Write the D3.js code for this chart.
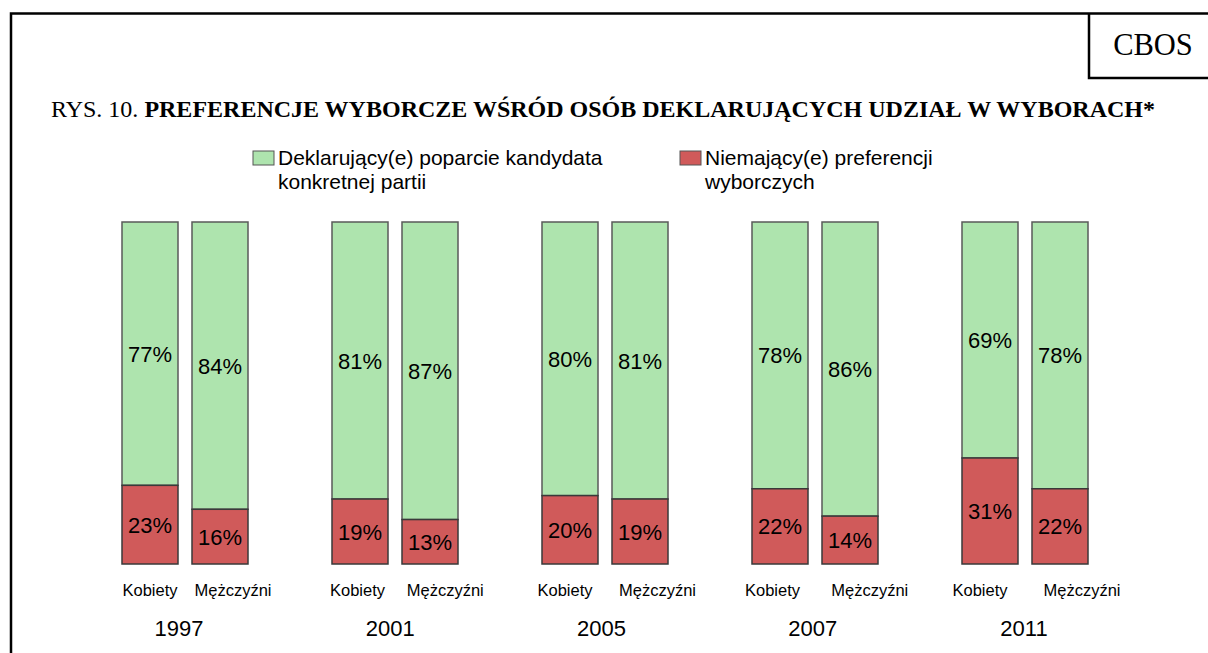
<!DOCTYPE html>
<html>
<head>
<meta charset="utf-8">
<script src="https://cdn.jsdelivr.net/npm/d3@7"></script>
<style>
  body { margin: 0; background: #ffffff; }
  svg text { font-family: "Liberation Sans", Arial, sans-serif; fill: #000; }
</style>
</head>
<body>
<div id="chart"></div>
<script>
const years = ["1997", "2001", "2005", "2007", "2011"];
const sexes = ["Kobiety", "Mężczyźni"];
// share declaring support for a party's candidate
const supportK = [77, 81, 80, 78, 69];
const supportM = [84, 87, 81, 86, 78];
// share without electoral preference
const noPrefK = [23, 19, 20, 22, 31];
const noPrefM = [16, 13, 19, 14, 22];
const legendLabels = [
    ["Deklarujący(e) poparcie kandydata", "konkretnej partii"],
    ["Niemający(e) preferencji", "wyborczych"]
];

const width = 1208;
const height = 653;
const green = "#aee4ae";
const red = "#d05a5a";

const rows = [];
years.forEach((yr, i) => {
    rows.push({ year: yr, sex: sexes[0], support: supportK[i], noPref: noPrefK[i] });
    rows.push({ year: yr, sex: sexes[1], support: supportM[i], noPref: noPrefM[i] });
});

const svg = d3.select("#chart")
    .append("svg")
    .attr("width", width)
    .attr("height", height);

// frame
svg.append("path")
    .attr("d", `M11,${height} V13.5 H${width}`)
    .attr("fill", "none")
    .attr("stroke", "#000")
    .attr("stroke-width", 2.5);
svg.append("path")
    .attr("d", `M1089,13.5 V78 H${width}`)
    .attr("fill", "none")
    .attr("stroke", "#000")
    .attr("stroke-width", 2.5);
svg.append("text")
    .attr("x", 1153)
    .attr("y", 55)
    .attr("text-anchor", "middle")
    .style("font-family", "'Liberation Serif', 'Times New Roman', serif")
    .style("font-size", "30.5px")
    .text("CBOS");

// title
const title = svg.append("text")
    .attr("x", 51)
    .attr("y", 117)
    .style("font-family", "'Liberation Serif', 'Times New Roman', serif")
    .style("font-size", "24px");
title.append("tspan").text("RYS. 10. ");
title.append("tspan")
    .style("font-weight", "bold")
    .text("PREFERENCJE WYBORCZE WŚRÓD OSÓB DEKLARUJĄCYCH UDZIAŁ W WYBORACH*");

// legend
const legend = svg.append("g");
const legX = [253, 680];
const legColors = [green, red];
legendLabels.forEach((lines, i) => {
    legend.append("rect")
        .attr("x", legX[i])
        .attr("y", 151)
        .attr("width", 21)
        .attr("height", 14)
        .attr("fill", legColors[i])
        .attr("stroke", "#555")
        .attr("stroke-width", 1);
    const t = legend.append("text")
        .attr("x", legX[i] + 25)
        .attr("y", 165)
        .style("font-size", "21px");
    lines.forEach((l, j) => {
        t.append("tspan")
            .attr("x", legX[i] + 25)
            .attr("dy", j === 0 ? 0 : 24)
            .text(l);
    });
});

// scales
const xGroup = d3.scalePoint()
    .domain(years)
    .range([185, 1025]);

const xSex = d3.scaleBand()
    .domain(sexes)
    .range([-63, 63])
    .paddingInner(0.2);

const y = d3.scaleLinear()
    .domain([0, 100])
    .range([564, 222]);

const barX = d => xGroup(d.year) + xSex(d.sex);

const bars = svg.append("g")
    .selectAll("g")
    .data(rows)
    .join("g");

bars.append("rect")
    .attr("x", barX)
    .attr("y", d => y(100))
    .attr("width", xSex.bandwidth())
    .attr("height", d => y(d.noPref) - y(100))
    .attr("fill", green)
    .attr("stroke", "#5a5a5a")
    .attr("stroke-width", 1.5);

bars.append("rect")
    .attr("x", barX)
    .attr("y", d => y(d.noPref))
    .attr("width", xSex.bandwidth())
    .attr("height", d => y(0) - y(d.noPref))
    .attr("fill", red)
    .attr("stroke", "#3a3a3a")
    .attr("stroke-width", 1.5);

bars.append("text")
    .attr("x", d => barX(d) + xSex.bandwidth() / 2)
    .attr("y", d => (y(100) + y(d.noPref)) / 2 + 8)
    .attr("text-anchor", "middle")
    .style("font-size", "22px")
    .text(d => d.support + "%");

bars.append("text")
    .attr("x", d => barX(d) + xSex.bandwidth() / 2)
    .attr("y", d => (y(d.noPref) + y(0)) / 2 + 8)
    .attr("text-anchor", "middle")
    .style("font-size", "22px")
    .text(d => d.noPref + "%");

// category labels
const xLabelK = d3.scalePoint().domain(years).range([150, 980]);
const xLabelM = d3.scalePoint().domain(years).range([233, 1082]);
const xYear = d3.scalePoint().domain(years).range([179, 1024]);

svg.append("g")
    .selectAll("text")
    .data(rows)
    .join("text")
    .attr("x", d => d.sex === sexes[0] ? xLabelK(d.year) : xLabelM(d.year))
    .attr("y", 596)
    .attr("text-anchor", "middle")
    .style("font-size", "16.5px")
    .text(d => d.sex);

svg.append("g")
    .selectAll("text")
    .data(years)
    .join("text")
    .attr("x", d => xYear(d))
    .attr("y", 636)
    .attr("text-anchor", "middle")
    .style("font-size", "22px")
    .text(d => d);
</script>
</body>
</html>
